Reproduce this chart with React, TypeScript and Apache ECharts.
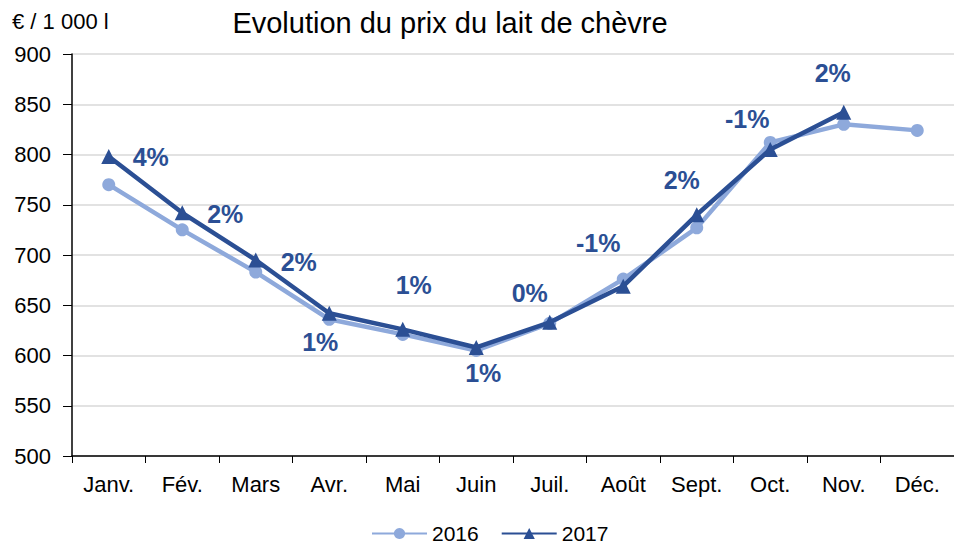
import React, { useEffect, useRef } from "react";
import * as echarts from "echarts";

const months = ["Janv.", "Fév.", "Mars", "Avr.", "Mai", "Juin", "Juil.", "Août", "Sept.", "Oct.", "Nov.", "Déc."];
const prix2016 = [770, 725, 683, 636, 621, 605, 632, 676, 727, 812, 830, 824];
const prix2017 = [798, 742, 695, 642, 626, 608, 633, 669, 740, 805, 842, null];
const evolutions = ["4%", "2%", "2%", "1%", "1%", "1%", "0%", "-1%", "2%", "-1%", "2%", ""];
const labelOffsets: [number, number][] = [
  [42, 0], [43, 1], [43, 2], [-9, 29], [11, -44], [7, 26], [-20, -29], [-25, -43], [-15, -35], [-23, -30], [-11, -39], [0, 0],
];

const FONT = "'Liberation Sans', Arial, sans-serif";
const C2016 = "#8EA9DB";
const C2017 = "#2B4F94";

export default function App() {
  const ref = useRef<HTMLDivElement>(null);
  useEffect(() => {
    if (!ref.current) return;
    const chart = echarts.init(ref.current, null, { renderer: "svg" });
    chart.setOption({
      animation: false,
      backgroundColor: "#ffffff",
      textStyle: { fontFamily: FONT },
      graphic: [
        {
          type: "text",
          x: 450,
          y: 23,
          style: { text: "Evolution du prix du lait de chèvre", font: `29px ${FONT}`, fill: "#000", align: "center", verticalAlign: "middle" },
        },
        {
          type: "text",
          x: 12,
          y: 21,
          style: { text: "€ / 1 000 l", font: `22px ${FONT}`, fill: "#000", align: "left", verticalAlign: "middle" },
        },
      ],
      grid: { left: 72, right: -6, top: 54, bottom: 90, containLabel: false },
      legend: {
        left: 366,
        top: 518,
        itemWidth: 55,
        itemHeight: 14,
        itemGap: 22,
        textStyle: { fontSize: 21, color: "#000", fontFamily: FONT },
        data: ["2016", "2017"],
      },
      xAxis: {
        type: "category",
        data: months,
        boundaryGap: true,
        axisLine: { lineStyle: { color: "#000", width: 1.5 } },
        axisTick: { show: true, length: 7, lineStyle: { color: "#000" } },
        axisLabel: { fontSize: 22, color: "#000", margin: 17, fontFamily: FONT },
      },
      yAxis: {
        type: "value",
        min: 500,
        max: 900,
        interval: 50,
        axisLine: { show: true, lineStyle: { color: "#000", width: 1.5 } },
        axisTick: { show: true, length: 9, lineStyle: { color: "#000" } },
        axisLabel: { fontSize: 22, color: "#000", margin: 21, fontFamily: FONT },
        splitLine: { lineStyle: { color: "#d9d9d9", width: 1.5 } },
      },
      series: [
        {
          name: "2016",
          type: "line",
          data: prix2016,
          symbol: "circle",
          symbolSize: 13,
          itemStyle: { color: C2016 },
          lineStyle: { color: C2016, width: 4.5 },
          z: 2,
        },
        {
          name: "2017",
          type: "line",
          data: prix2017.map((v, i) => ({
            value: v,
            label: {
              show: evolutions[i] !== "",
              formatter: evolutions[i],
              position: "inside",
              offset: labelOffsets[i],
            },
          })),
          symbol: "triangle",
          symbolSize: 15,
          itemStyle: { color: C2017 },
          lineStyle: { color: C2017, width: 4.5 },
          label: {
            fontSize: 25,
            fontWeight: "bold",
            color: C2017,
            fontFamily: FONT,
          },
          z: 3,
        },
      ],
    });
    return () => chart.dispose();
  }, []);
  return (
    <div
      ref={ref}
      style={{ position: "fixed", left: 0, top: 0, width: 954, height: 546 }}
    />
  );
}
